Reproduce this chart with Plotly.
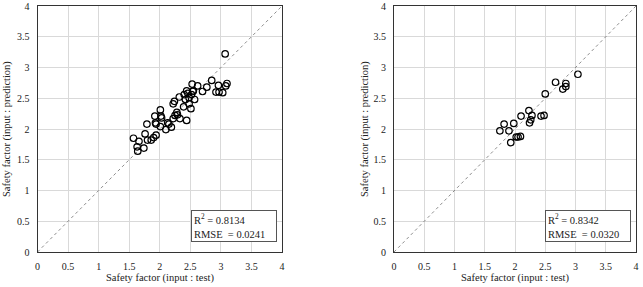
import plotly.graph_objects as go

# Left panel (training) data: test vs prediction
train_test = [3.07, 2.85, 2.62, 2.53, 2.77, 2.70, 2.96, 2.92, 2.97, 3.03, 3.10, 3.08,
              2.44, 2.54, 2.52, 2.40, 2.48, 2.42, 2.57, 2.32, 2.24, 2.22, 2.48, 2.39,
              2.51, 2.01, 2.28, 1.92, 2.02, 2.03, 2.25, 2.33, 2.22, 2.44, 2.13, 1.93,
              1.94, 1.79, 2.01, 2.19, 2.10, 1.76, 1.94, 1.90, 1.80, 1.86, 1.57, 1.66,
              1.63, 1.74, 1.64, 2.46, 2.55, 2.29, 2.15]
train_pred = [3.22, 2.79, 2.70, 2.73, 2.68, 2.61, 2.71, 2.60, 2.60, 2.59, 2.74, 2.70,
              2.62, 2.61, 2.56, 2.56, 2.51, 2.48, 2.48, 2.52, 2.45, 2.41, 2.41, 2.36,
              2.33, 2.31, 2.27, 2.21, 2.21, 2.18, 2.22, 2.17, 2.17, 2.14, 2.10, 2.10,
              2.08, 2.08, 2.04, 2.03, 1.99, 1.92, 1.90, 1.86, 1.82, 1.82, 1.85, 1.80,
              1.71, 1.69, 1.64, 2.58, 2.62, 2.23, 2.08]

# Right panel (validation) data
valid_test = [3.04, 2.67, 2.84, 2.84, 2.79, 2.50, 2.23, 2.28, 2.10, 2.43, 2.48,
              2.26, 2.24, 1.82, 1.98, 1.75, 1.90, 2.02, 2.05, 2.09, 1.93]
valid_pred = [2.89, 2.76, 2.74, 2.69, 2.65, 2.57, 2.30, 2.22, 2.21, 2.21, 2.22,
              2.15, 2.10, 2.08, 2.09, 1.97, 1.97, 1.87, 1.87, 1.88, 1.78]

ref_line = [0, 4]
tick_vals = [0, 0.5, 1, 1.5, 2, 2.5, 3, 3.5, 4]
tick_text = ["0", "0.5", "1", "1.5", "2", "2.5", "3", "3.5", "4"]
stats_left = ("0.8134", "0.0241")
stats_right = ("0.8342", "0.0320")

W, H = 643, 287
FONT = "Liberation Serif"

fig = go.Figure()

for i, (xs, ys) in enumerate([(train_test, train_pred), (valid_test, valid_pred)]):
    xa = "x" if i == 0 else "x2"
    ya = "y" if i == 0 else "y2"
    fig.add_trace(go.Scatter(x=ref_line, y=ref_line, mode="lines",
                             line=dict(color="#7f7f7f", width=0.9, dash="dot"),
                             xaxis=xa, yaxis=ya, showlegend=False, hoverinfo="skip"))
    fig.add_trace(go.Scatter(x=xs, y=ys, mode="markers",
                             marker=dict(symbol="circle-open", size=6.5, color="black",
                                         line=dict(width=1.2, color="black")),
                             xaxis=xa, yaxis=ya, showlegend=False))

px_l = (37.5, 282.0)
px_r = (394.0, 636.0)
py = (6.0, 252.0)
ydom = [(H - py[1]) / H, (H - py[0]) / H]

axis_common = dict(range=[0, 4], tickvals=tick_vals, ticktext=tick_text,
                   showgrid=True, gridcolor="#d9d9d9", gridwidth=1,
                   showline=True, linecolor="#333333", linewidth=1.2, mirror=True,
                   zeroline=False, ticks="", ticklabelstandoff=5, automargin=False,
                   tickfont=dict(family=FONT, size=10, color="#222222"),
                   fixedrange=True)

fig.update_layout(
    width=W, height=H, margin=dict(l=0, r=0, t=0, b=0, autoexpand=False),
    paper_bgcolor="white", plot_bgcolor="white",
    font=dict(family=FONT),
    xaxis=dict(domain=[px_l[0] / W, px_l[1] / W], anchor="y", **axis_common),
    yaxis=dict(domain=ydom, anchor="x", **axis_common),
    xaxis2=dict(domain=[px_r[0] / W, px_r[1] / W], anchor="y2", **axis_common),
    yaxis2=dict(domain=ydom, anchor="x2", **axis_common),
)

annotations = []
for (l, r), ytx, stats in [(px_l, 7, stats_left), (px_r, 365, stats_right)]:
    cx = (l + r) / 2
    annotations.append(dict(text="Safety factor (input : test)", x=cx / W, y=(H - 278) / H,
                            xref="paper", yref="paper", xanchor="center", yanchor="middle",
                            showarrow=False, font=dict(family=FONT, size=10.5, color="#222222")))
    annotations.append(dict(text="Safety factor (input : prediction)", x=ytx / W,
                            y=(H - 129) / H, textangle=-90,
                            xref="paper", yref="paper", xanchor="center", yanchor="middle",
                            showarrow=False, font=dict(family=FONT, size=10.5, color="#222222")))
    annotations.append(dict(text="R<sup>2</sup> = %s<br>RMSE  = %s" % stats,
                            x=(r - 5) / W, y=(H - 210) / H, xref="paper", yref="paper",
                            xanchor="right", yanchor="top", align="left",
                            width=80, height=26, borderpad=2,
                            bordercolor="#555555", borderwidth=1, bgcolor="white",
                            showarrow=False, font=dict(family=FONT, size=10.5, color="#222222")))

fig.update_layout(annotations=annotations)
fig.write_html("out.html")
